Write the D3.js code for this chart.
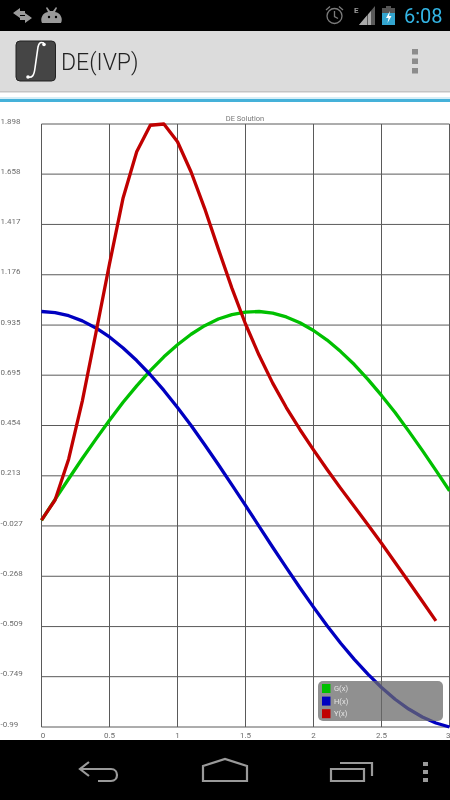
<!DOCTYPE html>
<html>
<head>
<meta charset="utf-8">
<title>DE(IVP)</title>
<script src="https://cdn.jsdelivr.net/npm/d3@7"></script>
<style>
html,body{margin:0;padding:0;background:#fff;overflow:hidden}
svg{display:block;will-change:transform}
text{font-family:Roboto,sans-serif}
</style>
</head>
<body>
<script>
const xTicks = [0, 0.5, 1, 1.5, 2, 2.5, 3];
const yTicks = [1.898, 1.658, 1.417, 1.176, 0.935, 0.695, 0.454, 0.213, -0.027, -0.268, -0.509, -0.749, -0.99];
const xValues = [0,0.1,0.2,0.3,0.4,0.5,0.6,0.7,0.8,0.9,1,1.1,1.2,1.3,1.4,1.5,1.6,1.7,1.8,1.9,2,2.1,2.2,2.3,2.4,2.5,2.6,2.7,2.8,2.9,3];
const gValues = [0,0.1,0.199,0.296,0.389,0.479,0.565,0.644,0.717,0.783,0.841,0.891,0.932,0.964,0.985,0.997,1,0.992,0.974,0.946,0.909,0.863,0.808,0.746,0.675,0.598,0.516,0.427,0.335,0.239,0.141];
const hValues = [1,0.995,0.98,0.955,0.921,0.878,0.825,0.765,0.697,0.622,0.54,0.454,0.362,0.267,0.17,0.071,-0.029,-0.129,-0.227,-0.323,-0.416,-0.505,-0.589,-0.666,-0.737,-0.801,-0.857,-0.904,-0.942,-0.971,-0.99];
const yValues = [0.001,0.097,0.294,0.571,0.897,1.228,1.544,1.765,1.892,1.898,1.813,1.668,1.493,1.3,1.112,0.94,0.79,0.657,0.54,0.435,0.337,0.243,0.153,0.066,-0.021,-0.11,-0.202,-0.294,-0.388,-0.482];
const seriesNames = ["G(x)", "H(x)", "Y(x)"];
const seriesColors = ["#00c000", "#0000c0", "#c00000"];
const seriesData = [gValues, hValues, yValues];
const chartTitle = "DE Solution";
const appTitle = "DE(IVP)";
const clockText = "6:08";

const W = 450, H = 800;
const svg = d3.select("body").append("svg").attr("width", W).attr("height", H);

// Plot
const x = d3.scaleLinear().domain([0, 3]).range([41.5, 449.5]);
const y = d3.scaleLinear().domain([-0.99, 1.898]).range([727, 124]);

const plot = svg.append("g");
plot.append("text").attr("x", 245).attr("y", 121).attr("text-anchor", "middle")
  .attr("font-size", 7.5).attr("fill", "#777").text(chartTitle);

const gy = plot.append("g").attr("transform", "translate(41.5,0)")
  .call(d3.axisLeft(y).offset(0).tickValues(yTicks).tickSize(-408).tickFormat(d => String(d)));
const gx = plot.append("g").attr("transform", "translate(0,727)")
  .call(d3.axisBottom(x).offset(0).tickValues(xTicks).tickSize(-603).tickFormat(d => String(d)));
[gy, gx].forEach(g => {
  g.select(".domain").remove();
  g.selectAll("line").attr("stroke", "#5a5a5a").attr("stroke-width", 1);
  g.selectAll("text").attr("fill", "#6c6c6c").attr("font-size", 8).attr("font-family", "Roboto,sans-serif");
});
gy.selectAll("text").attr("text-anchor", "start").attr("x", -41).attr("y", 0).attr("dy", "-0.05em");
gx.selectAll("text").attr("y", 8).attr("dy", "0.35em");
gx.selectAll("text").filter(d => d === 3).attr("text-anchor", "end").attr("dx", 1);
gx.selectAll("text").filter(d => d === 0).attr("dx", 1.5);

const line = d3.line().x((d, i) => x(xValues[i])).y(d => y(d));
plot.append("g").selectAll("path").data(seriesData).join("path")
  .attr("d", d => line(d))
  .attr("fill", "none")
  .attr("stroke", (d, i) => seriesColors[i])
  .attr("stroke-width", 3.3)
  .attr("stroke-linejoin", "round");

// Legend
const legend = svg.append("g").attr("transform", "translate(318,681)");
legend.append("rect").attr("width", 125).attr("height", 40).attr("rx", 5)
  .attr("fill", "rgb(105,105,105)").attr("fill-opacity", 0.74);
const li = legend.selectAll("g").data(seriesNames).join("g")
  .attr("transform", (d, i) => `translate(4,${3 + i * 12.6})`);
li.append("rect").attr("width", 8.5).attr("height", 9).attr("fill", (d, i) => seriesColors[i]);
li.append("text").attr("x", 12).attr("y", 7.2).attr("font-size", 7.5).attr("fill", "#e6e6e6").text(d => d);

// Status bar
const status = svg.append("g");
status.append("rect").attr("width", W).attr("height", 31).attr("fill", "#000");
status.append("path").attr("d", "M13 13l7-5v3h5v4h-5v3zM32 18l-7 5v-3h-5v-4h5v-3z").attr("fill", "#9a9a9a");
status.append("path").attr("d", "M42 23c-2-4 0-10 6-11l-2-4 1-1 3 4h3l3-4 1 1-2 4c6 1 8 7 6 11z").attr("fill", "#9a9a9a");
status.append("circle").attr("cx", 49).attr("cy", 17).attr("r", 1.2).attr("fill", "#000");
status.append("circle").attr("cx", 56).attr("cy", 17).attr("r", 1.2).attr("fill", "#000");
status.append("circle").attr("cx", 334.5).attr("cy", 16).attr("r", 7.5).attr("fill", "none").attr("stroke", "#7c7c7c").attr("stroke-width", 1.3);
status.append("path").attr("d", "M334.5 11v5.5l3.5 2M326 10l4-3.5M343 10l-4-3.5").attr("fill", "none").attr("stroke", "#7c7c7c").attr("stroke-width", 1.3);
status.append("text").attr("x", 354).attr("y", 13).attr("font-size", 8).attr("font-weight", 700).attr("fill", "#9a9a9a").text("E");
status.append("path").attr("d", "M359 25L375 6v19z").attr("fill", "#5a5a5a");
status.append("path").attr("d", "M359 25l8-9.5v9.5zM368 25v-10.5l3-3.5v14z").attr("fill", "#aaa");
status.append("rect").attr("x", 382).attr("y", 8).attr("width", 13).attr("height", 17).attr("fill", "#33a5cf");
status.append("rect").attr("x", 382).attr("y", 8).attr("width", 13).attr("height", 5).attr("fill", "#555");
status.append("rect").attr("x", 386).attr("y", 6).attr("width", 5).attr("height", 2).attr("fill", "#555");
status.append("path").attr("d", "M390 11l-4 7h2.5l-1 5 4-7h-2.5z").attr("fill", "#fff");
status.append("text").attr("x", 404).attr("y", 23).attr("font-size", 20).attr("fill", "#33b5e5").text(clockText);

// Action bar
const bar = svg.append("g");
bar.append("rect").attr("y", 31).attr("width", W).attr("height", 60).attr("fill", "#dcdcdc");
bar.append("rect").attr("y", 91).attr("width", W).attr("height", 1.5).attr("fill", "#c4c4c4");
bar.append("rect").attr("x", 16).attr("y", 41).attr("width", 39.5).attr("height", 40).attr("rx", 4)
  .attr("fill", "#454545").attr("stroke", "#222");
bar.append("path").attr("d", "M28 77c4 1 6-1 7-9l3-21c1-5 3-5 6-4")
  .attr("fill", "none").attr("stroke", "#fff").attr("stroke-width", 1.6);
bar.append("circle").attr("cx", 44).attr("cy", 44.5).attr("r", 1.8).attr("fill", "#fff");
bar.append("circle").attr("cx", 28).attr("cy", 77).attr("r", 1.8).attr("fill", "#fff");
bar.append("text").attr("x", 61).attr("y", 70).attr("font-size", 23).attr("font-weight", 300).attr("fill", "#222").text(appTitle);
bar.selectAll("rect.dot").data([49, 58.5, 68]).join("rect").attr("class", "dot")
  .attr("x", 412).attr("y", d => d).attr("width", 6).attr("height", 5.5).attr("fill", "#8c8c8c");
svg.append("rect").attr("y", 97).attr("width", W).attr("height", 2).attr("fill", "#d6eef7");
svg.append("rect").attr("y", 99).attr("width", W).attr("height", 3).attr("fill", "#45b1d9");

// Navigation bar
const nav = svg.append("g");
nav.append("rect").attr("y", 740).attr("width", W).attr("height", 60).attr("fill", "#000");
const navStroke = p => nav.append("path").attr("d", p).attr("fill", "none").attr("stroke", "#9a9a9a").attr("stroke-width", 2.2);
navStroke("M89 762l-9 7 9 7M80 769h31c8 0 8 12 0 12H98");
navStroke("M203 781v-15l22-7 22 7v15z");
navStroke("M331 769h33v12h-33zM340 763h32v13");
nav.selectAll("rect.dot").data([762, 770, 778]).join("rect").attr("class", "dot")
  .attr("x", 423).attr("y", d => d).attr("width", 5).attr("height", 4).attr("fill", "#9a9a9a");
</script>
</body>
</html>
